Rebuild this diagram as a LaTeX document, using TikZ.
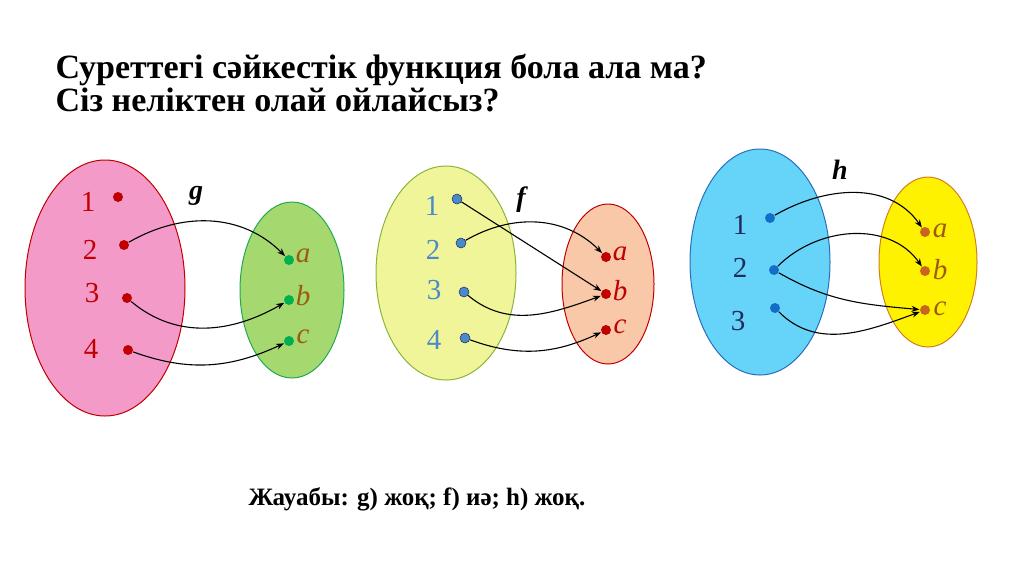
\documentclass[tikz,border=0pt]{standalone}
\usepackage{fontspec}
\setmainfont{Liberation Serif}
\usetikzlibrary{arrows.meta}
\definecolor{dred}{HTML}{C00000}
\definecolor{brn}{HTML}{9C5A10}
\definecolor{fblue}{HTML}{4A8AC8}
\definecolor{navy}{HTML}{1F2A60}
\begin{document}
\begin{tikzpicture}[x=1pt,y=-1pt,
 pt/.style={circle,inner sep=0pt,minimum size=10pt},
 num/.style={font=\fontsize{29}{29}\selectfont},
 let/.style={font=\fontsize{29}{29}\selectfont\itshape},
 fn/.style={font=\fontsize{28}{28}\selectfont\bfseries\itshape},
 arr/.style={-{Stealth[length=8pt,width=6pt]},line width=1.1pt,black},
 every path/.style={line width=1pt}]
\useasboundingbox (0,0) rectangle (1024,574);
\node[anchor=base west,font=\fontsize{34}{34}\selectfont\bfseries,inner sep=0] (t1) at (55,78) {Суреттегі сәйкестік функция бола ала ма?};
\node[anchor=base west,font=\fontsize{34}{34}\selectfont\bfseries,inner sep=0] (t2) at (55,111) {Сіз неліктен олай ойлайсыз?};
% g
\draw[draw=dred,fill={rgb,255:red,244;green,154;blue,201}] (105,288) ellipse [x radius=80,y radius=128];
\draw[draw={rgb,255:red,30;green,170;blue,80},fill={rgb,255:red,166;green,216;blue,112}] (292,290) ellipse [x radius=52,y radius=88];
\foreach \n/\x/\y/\lx/\ly in {1/118/197/88/202,2/124/245/90/250,3/127/298/92/293,4/128/350/91/349}{
 \node[pt,fill=dred] (g\n) at (\x,\y) {};
 \node[num,text=dred] (gl\n) at (\lx,\ly) {\n};}
\foreach \n/\y in {a/260,b/300,c/341}{
 \node[pt,fill={rgb,255:red,0;green,176;blue,80}] (g\n) at (289,\y) {};
 \node[let,text=brn] (gl\n) at (303,\y-4) {\n};}
\node[fn] (gname) at (196,196) {g};
\draw[arr] (g2) to[out=30,in=135] (ga);
\draw[arr] (g3) to[out=-40,in=-150] (gb);
\draw[arr] (g4) to[out=-20,in=-155] (gc);
% f
\draw[draw={rgb,255:red,140;green,180;blue,60},fill={rgb,255:red,240;green,245;blue,154}] (446,273) ellipse [x radius=70,y radius=107];
\draw[draw=dred,fill={rgb,255:red,248;green,200;blue,168}] (608,284) ellipse [x radius=46,y radius=80];
\foreach \n/\x/\y/\lx/\ly in {1/457/199/432/206,2/461/243/433/250,3/464/292/434/290,4/465/338/434/340}{
 \node[pt,fill=fblue,draw=navy,line width=0.5pt] (f\n) at (\x,\y) {};
 \node[num,text=fblue] (fl\n) at (\lx,\ly) {\n};}
\foreach \n/\y in {a/257,b/294,c/330}{
 \node[pt,fill=dred] (f\n) at (606,\y) {};
 \node[let,text=dred] (fl\n) at (620,\y-3) {\n};}
\node[fn] (fname) at (521,200) {f};
\draw[arr] (f1) -- (fb);
\draw[arr] (f2) to[out=30,in=135] (fa);
\draw[arr] (f3) to[out=-40,in=-160] (fb);
\draw[arr] (f4) to[out=-20,in=-155] (fc);
% h
\draw[draw={rgb,255:red,40;green,110;blue,190},fill={rgb,255:red,102;green,212;blue,248}] (760,262) ellipse [x radius=70,y radius=113];
\draw[draw={rgb,255:red,208;green,128;blue,32},fill=yellow] (928,262) ellipse [x radius=49,y radius=85];
\foreach \n/\x/\y/\lx/\ly in {1/770/218/740/225,2/774/270/740/268,3/775/308/738/321}{
 \node[pt,fill={rgb,255:red,20;green,110;blue,200}] (h\n) at (\x,\y) {};
 \node[num,text=navy] (hl\n) at (\lx,\ly) {\n};}
\foreach \n/\y in {a/232,b/271,c/310}{
 \node[pt,fill={rgb,255:red,200;green,100;blue,30}] (h\n) at (925,\y) {};
 \node[let,text=brn] (hl\n) at (940,\y-1) {\n};}
\node[fn] (hname) at (840,170) {h};
\draw[arr] (h1) to[out=30,in=125] (ha);
\draw[arr] (h2) to[out=45,in=125] (hb);
\draw[arr] (h2) to[out=-30,in=175] (hc);
\draw[arr] (h3) to[out=-45,in=-160] (hc);
\node[anchor=base west,font=\fontsize{25}{25}\selectfont\bfseries,inner sep=0] (ans) at (248,505) {Жауабы: g) жоқ; f) иә; h) жоқ.};
\end{tikzpicture}
\end{document}
